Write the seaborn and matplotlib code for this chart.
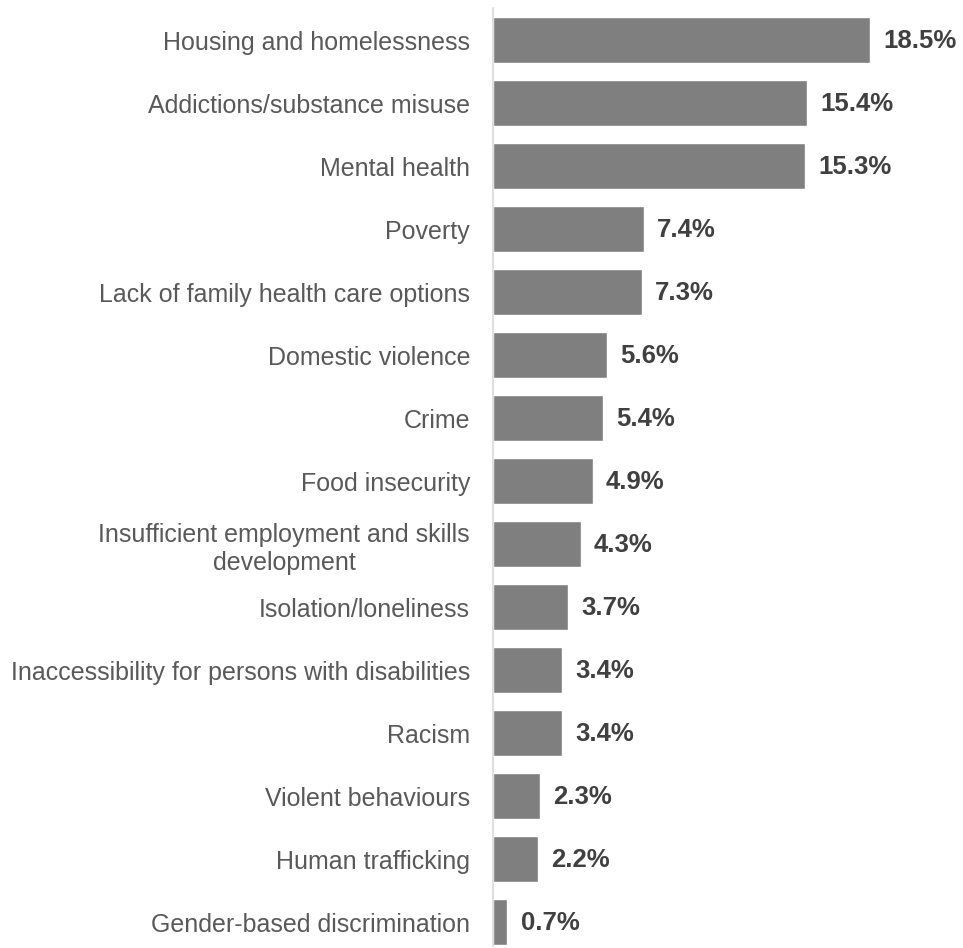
import matplotlib
matplotlib.use("Agg")
import matplotlib.pyplot as plt
import seaborn as sns
import pandas as pd

categories = [
    "Housing and homelessness",
    "Addictions/substance misuse",
    "Mental health",
    "Poverty",
    "Lack of family health care options",
    "Domestic violence",
    "Crime",
    "Food insecurity",
    "Insufficient employment and skills\ndevelopment",
    "Isolation/loneliness",
    "Inaccessibility for persons with disabilities",
    "Racism",
    "Violent behaviours",
    "Human trafficking",
    "Gender-based discrimination",
]
values = [18.5, 15.4, 15.3, 7.4, 7.3, 5.6, 5.4, 4.9, 4.3, 3.7, 3.4, 3.4, 2.3, 2.2, 0.7]

df = pd.DataFrame({"category": categories, "value": values})

sns.set_theme(style="white")
plt.rcParams["font.family"] = ["Liberation Sans", "DejaVu Sans"]

fig = plt.figure(figsize=(9.63, 9.48), dpi=100)
W, H = 963, 948
left, right, top, bottom = 493, 963, 8.5, 946
ax = fig.add_axes([left / W, 1 - bottom / H, (right - left) / W, (bottom - top) / H])

sns.barplot(data=df, x="value", y="category", color="#7f7f7f", saturation=1,
            width=0.73, ax=ax, orient="h")

ax.set_xlim(0, (right - left) / 20.38)
ax.set_ylim(14.38, -0.5)
for s in ["top", "right", "bottom"]:
    ax.spines[s].set_visible(False)
ax.spines["left"].set_color("#d9d9d9")
ax.spines["left"].set_linewidth(1.2)
ax.set_xticks([])
ax.set_xlabel("")
ax.set_ylabel("")
ax.tick_params(axis="y", length=0, pad=16.5, labelsize=18, labelcolor="#595959")
for lbl in ax.get_yticklabels():
    lbl.set_horizontalalignment("right")
    lbl.set_multialignment("center")
    lbl.set_linespacing(1.25)

for i, v in enumerate(values):
    ax.text(v + 0.65, i + 0.02, f"{v:.1f}%", va="center", ha="left",
            fontsize=18.5, fontweight="bold", color="#404040")

fig.savefig("out.png", dpi=100)
